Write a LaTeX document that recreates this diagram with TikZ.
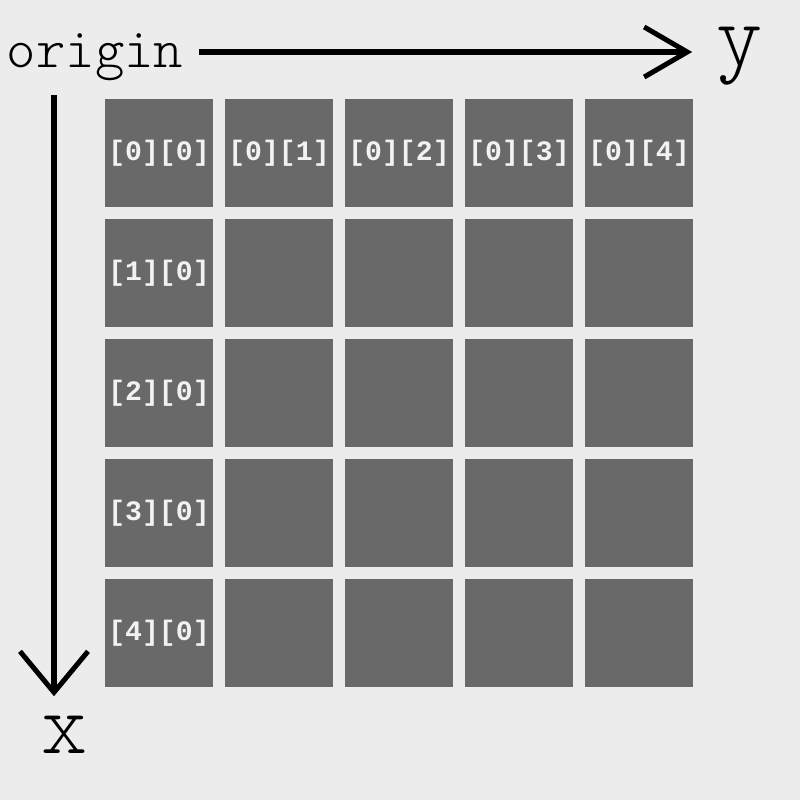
\documentclass[tikz,border=0pt]{standalone}
\usepackage{fontspec}
\newfontfamily\labelfont{Liberation Mono}
\newfontfamily\axisfont{Latin Modern Mono Light}
\usetikzlibrary{arrows.meta, positioning, calc}
\definecolor{bggray}{RGB}{236,236,236}
\definecolor{cellgray}{RGB}{105,105,105}
\definecolor{labelwhite}{RGB}{242,242,242}

\begin{document}
\begin{tikzpicture}[x=0.01cm, y=-0.01cm,
  cell/.style={fill=cellgray, minimum size=1.08cm, inner sep=0pt, text=labelwhite,
    font=\labelfont\bfseries\fontsize{8}{8}\selectfont},
  axislabel/.style={inner sep=0pt, font=\axisfont\fontsize{25}{25}\selectfont,
    text height=0.4cm, text depth=0.16cm},
  axis/.style={line width=0.05cm}]
  \fill[bggray] (0,0) rectangle (800,800);
  \useasboundingbox (0,0) rectangle (800,800);

  % 5x5 array, indices on first row and first column
  \foreach \j in {0,...,4}
    \node[cell] (c0\j) at ({159+120*\j},153) {[0][\j]};
  \foreach \i in {1,...,4} {
    \node[cell] (c\i0) at (159,{153+120*\i}) {[\i][0]};
    \foreach \j in {1,...,4}
      \node[cell] (c\i\j) at ({159+120*\j},{153+120*\i}) {};
  }

  % axes
  \node[axislabel, font=\axisfont\fontsize{15.9}{16}\selectfont,
    text height=0.4cm, text depth=0.1cm] (origin) at (95,52) {origin};
  \node[axislabel] (ylab) at (740,52) {y};
  \node[axislabel] (xlab) at (65,741) {x};
  \coordinate (xtop) at (54,95);

  \draw[axis, -{Straight Barb[length=0.43cm, width=0.5cm]},
    shorten <=0.15cm, shorten >=0.24cm] (origin) -- (ylab);
  \draw[axis, -{Straight Barb[length=0.41cm, width=0.68cm]},
    shorten >=0.16cm] (xtop) -- (xtop |- xlab.north);
\end{tikzpicture}
\end{document}
